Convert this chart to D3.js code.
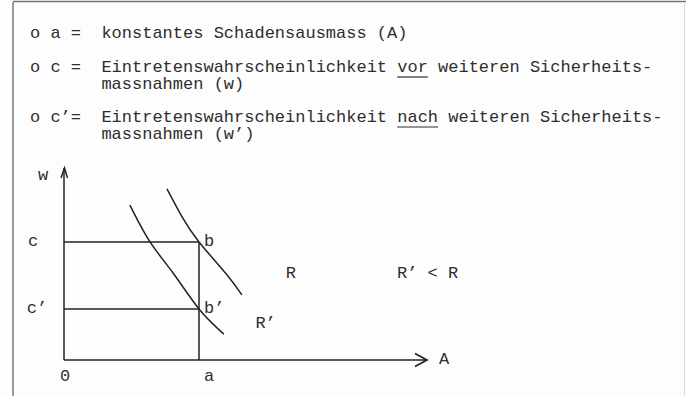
<!DOCTYPE html>
<html>
<head>
<meta charset="utf-8">
<script src="https://cdn.jsdelivr.net/npm/d3@7"></script>
<style>
  html, body { margin: 0; padding: 0; background: #fdfdfd; }
  svg text { font-family: 'Liberation Mono', 'DejaVu Sans Mono', monospace; fill: #2e2e2e; }
</style>
</head>
<body>
<div id="chart"></div>
<script>
// ━━━━━━━━━━━━━━━━━━━━━━━━━━━━━━━━━━━━━━━━━━━━━━━━━━━━━━━━━━━━━━━━━━━━━━━━━━━━━━
// Data /////////////////////////////////////////////////////////////////////////
// ━━━━━━━━━━━━━━━━━━━━━━━━━━━━━━━━━━━━━━━━━━━━━━━━━━━━━━━━━━━━━━━━━━━━━━━━━━━━━━

// legend lines (typewriter text), underlined word per item
const legend_lines = [
  ["o a =  konstantes Schadensausmass (A)"],
  ["o c =  Eintretenswahrscheinlichkeit vor weiteren Sicherheits-", "       massnahmen (w)"],
  ["o c\u2019=  Eintretenswahrscheinlichkeit nach weiteren Sicherheits-", "       massnahmen (w\u2019)"]
];
const legend_underline = [null, 'vor', 'nach'];

// axis values (arbitrary units)
const x_max = 10, y_max = 10;
const a_value = 3.75;          // Schadensausmass
const c_value = 6.15;          // vor
const c2_value = 2.66;         // nach

// iso-risk curves R and R'
const curve_R  = [[2.86, 8.91], [3.28, 7.45], [3.75, 6.15], [4.53, 4.43], [4.94, 3.39]];
const curve_R2 = [[1.83, 8.07], [2.39, 6.15], [3.03, 4.53], [3.75, 2.66], [4.44, 1.35]];

// free labels [x, y, text]
const region_labels = [
  [6.3, 4.5, 'R'],
  [5.6, 1.9, "R\u2019"],
  [10.1, 4.5, "R\u2019 < R"]
];

// ━━━━━━━━━━━━━━━━━━━━━━━━━━━━━━━━━━━━━━━━━━━━━━━━━━━━━━━━━━━━━━━━━━━━━━━━━━━━━━
// SVG setup ////////////////////////////////////////////////////////////////////
// ━━━━━━━━━━━━━━━━━━━━━━━━━━━━━━━━━━━━━━━━━━━━━━━━━━━━━━━━━━━━━━━━━━━━━━━━━━━━━━

const width = 686, height = 396;

const svg = d3.select('#chart').append('svg')
  .attr('width', width)
  .attr('height', height)
  .attr('viewBox', [0, 0, width, height]);

const   frame = svg.append('g').attr('id', 'frame');
const  legend = svg.append('g').attr('id', 'legend');
const    plot = svg.append('g').attr('id', 'plot');

frame.append('rect').attr('width', width).attr('height', height).attr('fill', '#fdfdfd');
frame.append('line').attr('x1', 13).attr('x2', 13).attr('y1', 2).attr('y2', height)
  .attr('stroke', '#666').attr('stroke-width', 1.3);
frame.append('line').attr('x1', 13).attr('x2', width).attr('y1', 1.5).attr('y2', 1.5)
  .attr('stroke', '#777').attr('stroke-width', 1.5);
frame.append('line').attr('x1', 684.5).attr('x2', 684.5).attr('y1', 2).attr('y2', height)
  .attr('stroke', '#ddd').attr('stroke-width', 1);

// ━━━━━━━━━━━━━━━━━━━━━━━━━━━━━━━━━━━━━━━━━━━━━━━━━━━━━━━━━━━━━━━━━━━━━━━━━━━━━━
// Legend ///////////////////////////////////////////////////////////////////////
// ━━━━━━━━━━━━━━━━━━━━━━━━━━━━━━━━━━━━━━━━━━━━━━━━━━━━━━━━━━━━━━━━━━━━━━━━━━━━━━

const fs = 17, charW = fs * 0.6;
const line_y = [38, 72, 122];   // first baseline of every item
const line_h = 17;
const text_x = 30;

legend_lines.forEach((lines, i) => {
  const g = legend.append('g').attr('font-size', fs);
  const y = line_y[i];
  lines.forEach((t, j) => {
    g.append('text').attr('x', text_x).attr('y', y + j * line_h)
      .attr('xml:space', 'preserve').text(t);
  });
  const u = legend_underline[i];
  if (u) {
    const idx = lines[0].indexOf(' ' + u + ' ') + 1;
    g.append('line')
      .attr('x1', text_x + idx * charW).attr('x2', text_x + (idx + u.length) * charW)
      .attr('y1', y + 5).attr('y2', y + 5)
      .attr('stroke', '#2e2e2e').attr('stroke-width', 1.2);
  }
});

// ━━━━━━━━━━━━━━━━━━━━━━━━━━━━━━━━━━━━━━━━━━━━━━━━━━━━━━━━━━━━━━━━━━━━━━━━━━━━━━
// Diagram //////////////////////////////////////////////////////////////////////
// ━━━━━━━━━━━━━━━━━━━━━━━━━━━━━━━━━━━━━━━━━━━━━━━━━━━━━━━━━━━━━━━━━━━━━━━━━━━━━━

const x = d3.scaleLinear().domain([0, x_max]).range([64, 424]);
const y = d3.scaleLinear().domain([0, y_max]).range([360, 168]);

const ink = '#222';

// axes
plot.append('line').attr('x1', x(0)).attr('x2', x(0)).attr('y1', y(0)).attr('y2', y(y_max))
  .attr('stroke', ink).attr('stroke-width', 1.5);
plot.append('line').attr('x1', x(0)).attr('x2', x(x_max) + 2).attr('y1', y(0)).attr('y2', y(0))
  .attr('stroke', ink).attr('stroke-width', 1.7);

// arrow heads (open chevrons)
plot.append('path')
  .attr('d', `M${x(0) - 3},${y(y_max) + 10} L${x(0) + 0.5},${y(y_max)} L${x(0) + 3.5},${y(y_max) + 10}`)
  .attr('fill', 'none').attr('stroke', ink).attr('stroke-width', 1.5);
plot.append('path')
  .attr('d', `M${x(x_max) - 9},${y(0) - 6.5} L${x(x_max) + 3},${y(0)} L${x(x_max) - 9},${y(0) + 6.5}`)
  .attr('fill', 'none').attr('stroke', ink).attr('stroke-width', 1.7);

// c / c' guide lines and a vertical
[c_value, c2_value].forEach(v => {
  plot.append('line').attr('x1', x(0)).attr('x2', x(a_value)).attr('y1', y(v)).attr('y2', y(v))
    .attr('stroke', ink).attr('stroke-width', 1.5);
});
plot.append('line').attr('x1', x(a_value)).attr('x2', x(a_value)).attr('y1', y(0)).attr('y2', y(c_value))
  .attr('stroke', ink).attr('stroke-width', 1.5);

// curves
const line = d3.line().x(d => x(d[0])).y(d => y(d[1])).curve(d3.curveNatural);
plot.selectAll('path.curve')
  .data([curve_R, curve_R2])
  .join('path')
  .attr('class', 'curve')
  .attr('d', line)
  .attr('fill', 'none')
  .attr('stroke', ink)
  .attr('stroke-width', 1.5);

// labels
const lab = plot.append('g').attr('font-size', fs).attr('dominant-baseline', 'middle');
lab.append('text').attr('x', 43).attr('y', y(y_max) + 8).attr('text-anchor', 'middle').text('w');
lab.append('text').attr('x', 33).attr('y', y(c_value)).attr('text-anchor', 'middle').text('c');
lab.append('text').attr('x', 37).attr('y', y(c2_value)).attr('text-anchor', 'middle').text("c\u2019");
lab.append('text').attr('x', x(0) + 1).attr('y', 377).attr('text-anchor', 'middle').text('0');
lab.append('text').attr('x', x(a_value) + 10).attr('y', 377).attr('text-anchor', 'middle').text('a');
lab.append('text').attr('x', x(x_max) + 20).attr('y', y(0)).attr('text-anchor', 'middle').text('A');
lab.append('text').attr('x', x(a_value) + 5).attr('y', y(c_value)).text('b');
lab.append('text').attr('x', x(a_value) + 5).attr('y', y(c2_value)).text("b\u2019");

lab.selectAll('text.region')
  .data(region_labels)
  .join('text')
  .attr('class', 'region')
  .attr('x', d => x(d[0]))
  .attr('y', d => y(d[1]))
  .attr('text-anchor', 'middle')
  .attr('xml:space', 'preserve')
  .text(d => d[2]);
</script>
</body>
</html>
